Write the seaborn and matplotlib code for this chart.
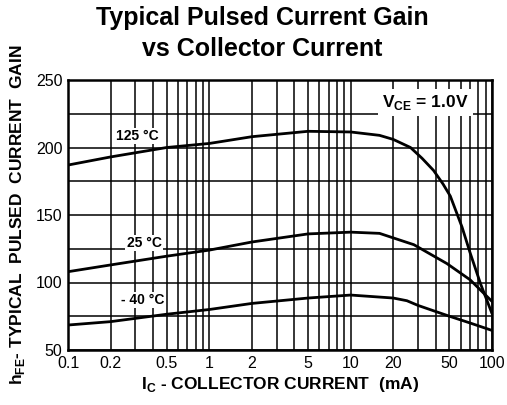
import numpy as np
import pandas as pd
import matplotlib
matplotlib.use("Agg")
import matplotlib.pyplot as plt
from matplotlib.ticker import FixedLocator, FixedFormatter, NullFormatter
import seaborn as sns

# values
ic_125 = [0.1, 0.2, 0.5, 1, 2, 5, 10, 16, 20, 26.5, 32, 38.6, 45, 50.7, 61.4, 70, 83, 100]
hfe_125 = [187, 193, 200, 203, 208, 212, 211.5, 209, 206, 200, 192, 183, 173, 164, 141, 122, 99, 77]

ic_25 = [0.1, 0.2, 0.5, 1, 2, 5, 10, 16, 28, 48, 70, 100]
hfe_25 = [108, 113, 119.5, 124, 130, 136, 137.3, 136.4, 128, 114, 102, 86]

ic_m40 = [0.1, 0.2, 0.5, 1, 2, 5, 10, 20, 25, 30, 50, 70, 100]
hfe_m40 = [68.5, 71, 76.5, 80, 84.5, 88.5, 90.7, 88.5, 86.5, 83, 75, 70, 64.5]

labels = ["125 \u00b0C", "25 \u00b0C", "- 40 \u00b0C"]
label_pos = [(0.31, 208.5), (0.345, 129.5), (0.34, 87)]

xticks = [0.1, 0.2, 0.5, 1, 2, 5, 10, 20, 50, 100]
xtick_labels = ["0.1", "0.2", "0.5", "1", "2", "5", "10", "20", "50", "100"]
yticks = [50, 100, 150, 200, 250]

df = pd.concat([
    pd.DataFrame({"ic": ic_125, "hfe": hfe_125, "temp": labels[0]}),
    pd.DataFrame({"ic": ic_25, "hfe": hfe_25, "temp": labels[1]}),
    pd.DataFrame({"ic": ic_m40, "hfe": hfe_m40, "temp": labels[2]}),
])

sns.set_style("white")
plt.rcParams['font.family'] = ['Liberation Sans', 'DejaVu Sans']
plt.rcParams['text.color'] = 'black'
plt.rcParams['axes.labelcolor'] = 'black'
plt.rcParams['mathtext.fontset'] = 'custom'
plt.rcParams['mathtext.rm'] = 'Liberation Sans'
plt.rcParams['mathtext.bf'] = 'Liberation Sans:bold'

fig = plt.figure(figsize=(5.07, 4.05), dpi=100)
ax = fig.add_axes([68 / 507, 1 - 350 / 405, (492 - 68) / 507, (350 - 80) / 405])

sns.lineplot(data=df, x="ic", y="hfe", units="temp", estimator=None,
             color="black", linewidth=2.0, ax=ax, sort=False, zorder=3)

ax.set_xscale("log")
ax.set_xlim(0.1, 100)
ax.set_ylim(50, 250)

# grid on every 1..9 of each decade, and every 25 in y
minor_x = [m * 10.0 ** e for e in range(-1, 2) for m in range(1, 10)] + [100]
ax.xaxis.set_major_locator(FixedLocator(xticks))
ax.xaxis.set_major_formatter(FixedFormatter(xtick_labels))
ax.xaxis.set_minor_locator(FixedLocator(minor_x))
ax.xaxis.set_minor_formatter(NullFormatter())
ax.set_yticks(yticks)
ax.set_yticks(np.arange(50, 251, 25), minor=True)
ax.grid(True, which="both", color="black", linewidth=1.1, zorder=1)
ax.tick_params(which="both", length=0, labelsize=11.5, colors="black", pad=4)

for s in ax.spines.values():
    s.set_linewidth(1.8)
    s.set_color("black")

for txt, (x, y) in zip(labels, label_pos):
    ax.text(x, y, txt, fontsize=10, fontweight="bold", ha="center", va="center",
            bbox=dict(facecolor="white", edgecolor="none", pad=0.8), zorder=4)

ax.text(33.7, 233.5, r"V$_{\mathbf{CE}}$ = 1.0V", fontsize=12.5, fontweight="bold",
        ha="center", va="center",
        bbox=dict(facecolor="white", edgecolor="none", pad=3.0), zorder=4)

ax.set_xlabel(r"I$_{\mathbf{C}}$ - COLLECTOR CURRENT  (mA)", fontsize=12.5,
              fontweight="bold", labelpad=3)
ax.set_ylabel(r"h$_{\mathbf{FE}}$- TYPICAL  PULSED  CURRENT  GAIN", fontsize=12.5,
              fontweight="bold", labelpad=6)

fig.text(0.517, 0.955, "Typical Pulsed Current Gain", fontsize=18, fontweight="bold",
         ha="center", va="center")
fig.text(0.517, 0.878, "vs Collector Current", fontsize=18, fontweight="bold",
         ha="center", va="center")

fig.savefig("out.png", dpi=100)
